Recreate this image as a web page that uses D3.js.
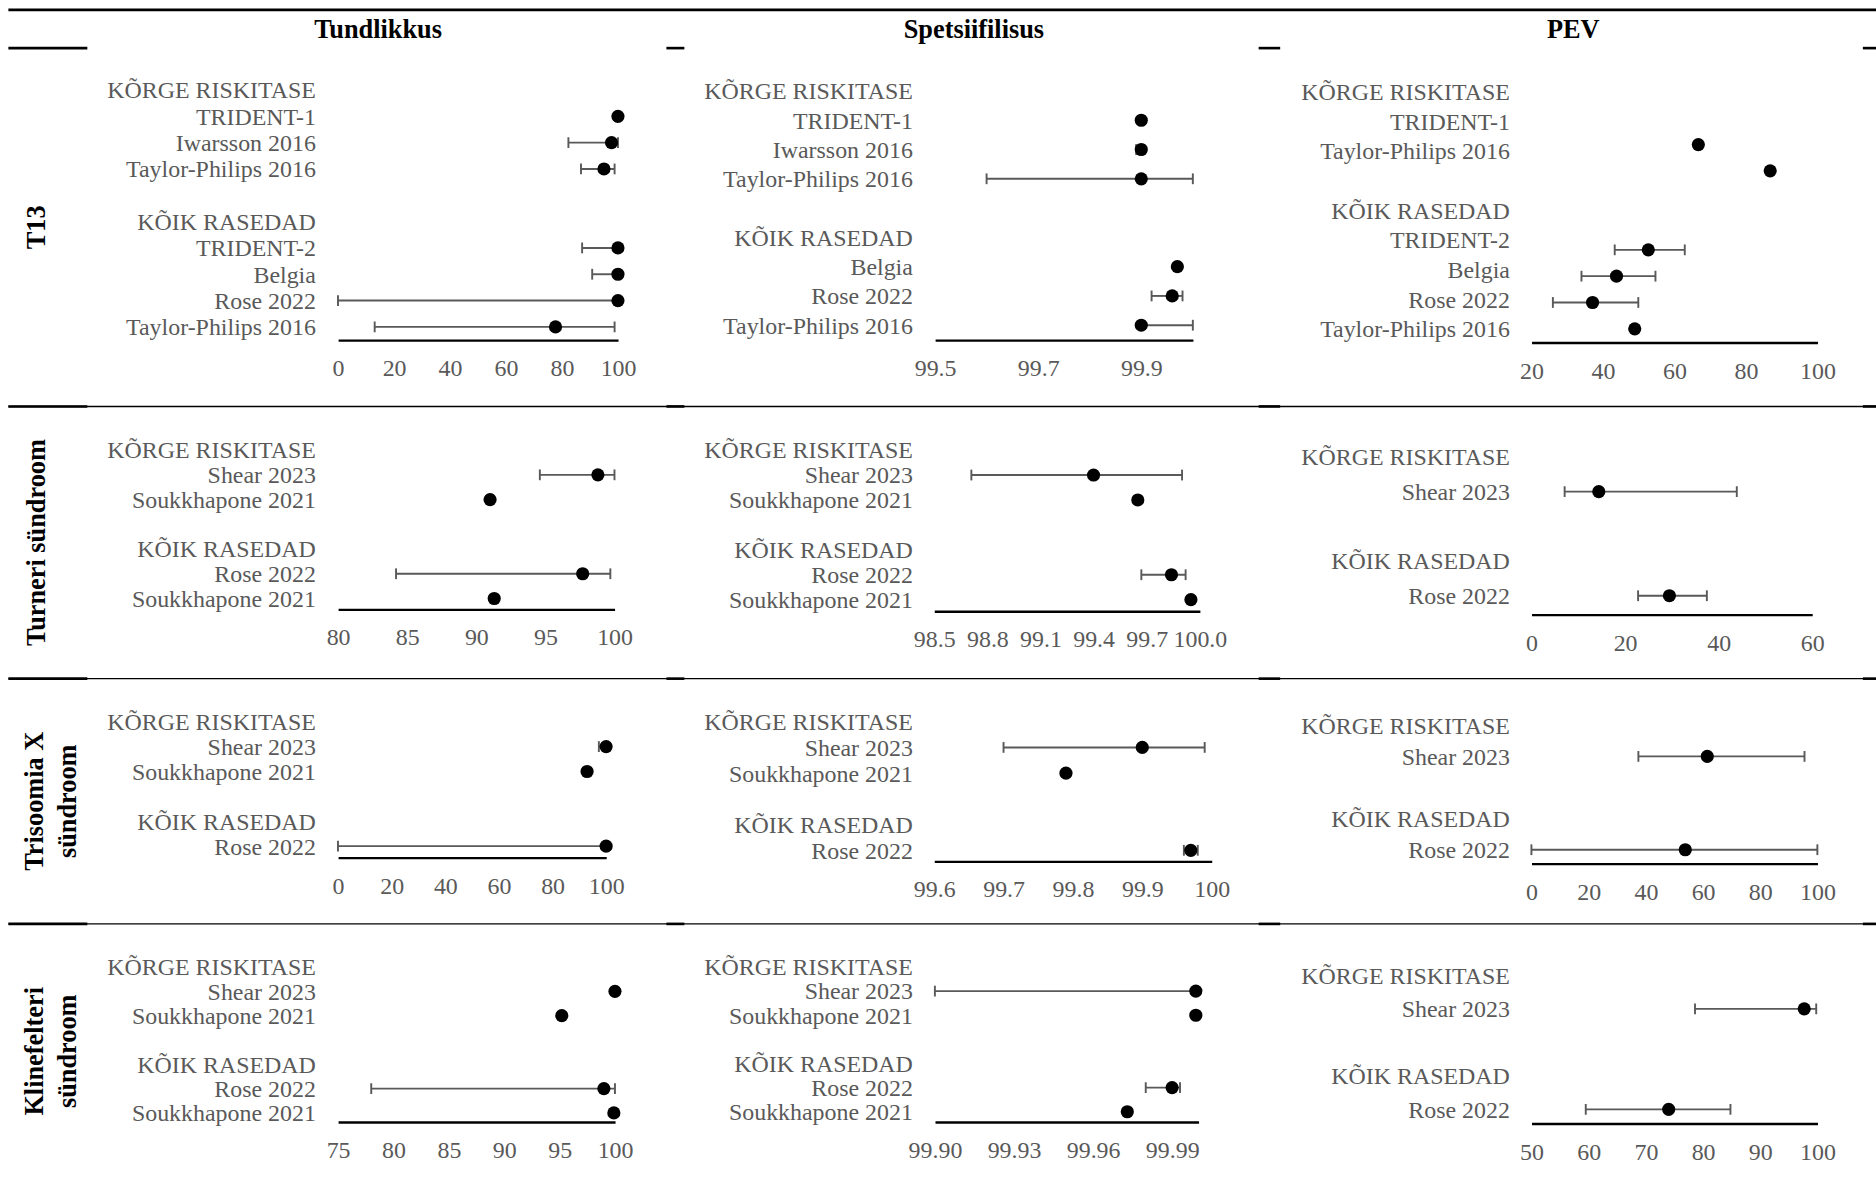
<!DOCTYPE html>
<html>
<head>
<meta charset="utf-8">
<script src="https://cdn.jsdelivr.net/npm/d3@7"></script>
<style>
  body { margin: 0; background: #fff; }
  svg { display: block; }
</style>
</head>
<body>
<svg id="chart"></svg>
<script>
// ---- data ----
const colHeaders = ['Tundlikkus', 'Spetsiifilisus', 'PEV'];
const rowHeaders = [['T13'], ['Turneri sündroom'], ['Trisoomia X', 'sündroom'], ['Klinefelteri', 'sündroom']];

// T13
const t13TundLabels = ['KÕRGE RISKITASE', 'TRIDENT-1', 'Iwarsson 2016', 'Taylor-Philips 2016', '', 'KÕIK RASEDAD', 'TRIDENT-2', 'Belgia', 'Rose 2022', 'Taylor-Philips 2016'];
const t13TundEst = [null, 100, 97.7, 95.0, null, null, 100, 100, 100, 77.7];
const t13TundLo = [null, null, 82.3, 86.8, null, null, 87.2, 90.8, 0, 13.1];
const t13TundHi = [null, null, 100, 98.8, null, null, 100, 100, 100, 98.8];

const t13SpetsLabels = ['KÕRGE RISKITASE', 'TRIDENT-1', 'Iwarsson 2016', 'Taylor-Philips 2016', '', 'KÕIK RASEDAD', 'Belgia', 'Rose 2022', 'Taylor-Philips 2016'];
const t13SpetsEst = [null, 99.90, 99.90, 99.90, null, null, 99.97, 99.96, 99.90];
const t13SpetsLo = [null, null, 99.89, 99.60, null, null, 99.965, 99.92, 99.90];
const t13SpetsHi = [null, null, 99.905, 100, null, null, 99.975, 99.98, 100];

const t13PevLabels = ['KÕRGE RISKITASE', 'TRIDENT-1', 'Taylor-Philips 2016', '', 'KÕIK RASEDAD', 'TRIDENT-2', 'Belgia', 'Rose 2022', 'Taylor-Philips 2016'];
// PEV points sit on a 10-slot grid, not on the 9 label rows
const t13PevEst = [null, null, 66.7, 86.8, null, null, 52.7, 43.8, 37.1, 48.9];
const t13PevLo = [null, null, null, null, null, null, 43.3, 34.0, 26.0, null];
const t13PevHi = [null, null, null, null, null, null, 62.9, 54.7, 49.9, null];

// Turneri sündroom
const turnerLabels = ['KÕRGE RISKITASE', 'Shear 2023', 'Soukkhapone 2021', '', 'KÕIK RASEDAD', 'Rose 2022', 'Soukkhapone 2021'];
const turnerTundEst = [null, 98.8, 91.0, null, null, 97.7, 91.3];
const turnerTundLo = [null, 94.6, null, null, null, 84.2, null];
const turnerTundHi = [null, 100, null, null, null, 99.7, null];
const turnerSpetsEst = [null, 99.40, 99.65, null, null, 99.84, 99.95];
const turnerSpetsLo = [null, 98.71, null, null, null, 99.67, null];
const turnerSpetsHi = [null, 99.90, null, null, null, 99.92, null];
const turnerPevLabels = ['KÕRGE RISKITASE', 'Shear 2023', '', 'KÕIK RASEDAD', 'Rose 2022'];
const turnerPevEst = [null, 14.4, null, null, 29.5];
const turnerPevLo = [null, 7.1, null, null, 22.8];
const turnerPevHi = [null, 43.9, null, null, 37.5];

// Trisoomia X sündroom
const trixLabels = ['KÕRGE RISKITASE', 'Shear 2023', 'Soukkhapone 2021', '', 'KÕIK RASEDAD', 'Rose 2022'];
const trixTundEst = [null, 100, 92.9, null, null, 100];
const trixTundLo = [null, 97.3, null, null, null, 0];
const trixTundHi = [null, 100, null, null, null, 100];
const trixSpetsEst = [null, 99.90, 99.79, null, null, 99.97];
const trixSpetsLo = [null, 99.70, null, null, null, 99.96];
const trixSpetsHi = [null, 99.99, null, null, null, 99.98];
const trixPevLabels = ['KÕRGE RISKITASE', 'Shear 2023', '', 'KÕIK RASEDAD', 'Rose 2022'];
const trixPevEst = [null, 61.5, null, null, 53.8];
const trixPevLo = [null, 37.4, null, null, 0];
const trixPevHi = [null, 95.5, null, null, 100];

// Klinefelteri sündroom
const klineLabels = ['KÕRGE RISKITASE', 'Shear 2023', 'Soukkhapone 2021', '', 'KÕIK RASEDAD', 'Rose 2022', 'Soukkhapone 2021'];
const klineTundEst = [null, 100, 95.2, null, null, 99.0, 99.9];
const klineTundLo = [null, null, null, null, null, 78.0, null];
const klineTundHi = [null, null, null, null, null, 100, null];
const klineSpetsEst = [null, 99.999, 99.999, null, null, 99.99, 99.973];
const klineSpetsLo = [null, 99.90, null, null, null, 99.98, null];
const klineSpetsHi = [null, 99.999, null, null, null, 99.993, null];
const klinePevLabels = ['KÕRGE RISKITASE', 'Shear 2023', '', 'KÕIK RASEDAD', 'Rose 2022'];
const klinePevEst = [null, 97.7, null, null, 74.0];
const klinePevLo = [null, 78.6, null, null, 59.5];
const klinePevHi = [null, 99.8, null, null, 84.8];

// axis domains and ticks
const ticks0to100 = [0, 20, 40, 60, 80, 100];
const ticks20to100 = [20, 40, 60, 80, 100];
const ticks80to100 = [80, 85, 90, 95, 100];
const ticks75to100 = [75, 80, 85, 90, 95, 100];
const ticks0to60 = [0, 20, 40, 60];
const ticks50to100 = [50, 60, 70, 80, 90, 100];
const ticksSpetsT13 = [99.5, 99.7, 99.9];
const tickLabelsSpetsT13 = ['99.5', '99.7', '99.9'];
const ticksSpetsTurner = [98.5, 98.8, 99.1, 99.4, 99.7, 100];
const tickLabelsSpetsTurner = ['98.5', '98.8', '99.1', '99.4', '99.7', '100.0'];
const ticksSpetsTrix = [99.6, 99.7, 99.8, 99.9, 100];
const tickLabelsSpetsTrix = ['99.6', '99.7', '99.8', '99.9', '100'];
const ticksSpetsKline = [99.90, 99.93, 99.96, 99.99];
const tickLabelsSpetsKline = ['99.90', '99.93', '99.96', '99.99'];

const panels = [
  // row 0: T13
  { labels: t13TundLabels, est: t13TundEst, lo: t13TundLo, hi: t13TundHi, domain: [0, 100], ticks: ticks0to100 },
  { labels: t13SpetsLabels, est: t13SpetsEst, lo: t13SpetsLo, hi: t13SpetsHi, domain: [99.5, 100], ticks: ticksSpetsT13, tickLabels: tickLabelsSpetsT13 },
  { labels: t13PevLabels, est: t13PevEst, lo: t13PevLo, hi: t13PevHi, domain: [20, 100], ticks: ticks20to100 },
  // row 1: Turner
  { labels: turnerLabels, est: turnerTundEst, lo: turnerTundLo, hi: turnerTundHi, domain: [80, 100], ticks: ticks80to100 },
  { labels: turnerLabels, est: turnerSpetsEst, lo: turnerSpetsLo, hi: turnerSpetsHi, domain: [98.5, 100], ticks: ticksSpetsTurner, tickLabels: tickLabelsSpetsTurner },
  { labels: turnerPevLabels, est: turnerPevEst, lo: turnerPevLo, hi: turnerPevHi, domain: [0, 60], ticks: ticks0to60 },
  // row 2: Trisoomia X
  { labels: trixLabels, est: trixTundEst, lo: trixTundLo, hi: trixTundHi, domain: [0, 100], ticks: ticks0to100 },
  { labels: trixLabels, est: trixSpetsEst, lo: trixSpetsLo, hi: trixSpetsHi, domain: [99.6, 100], ticks: ticksSpetsTrix, tickLabels: tickLabelsSpetsTrix },
  { labels: trixPevLabels, est: trixPevEst, lo: trixPevLo, hi: trixPevHi, domain: [0, 100], ticks: ticks0to100 },
  // row 3: Klinefelter
  { labels: klineLabels, est: klineTundEst, lo: klineTundLo, hi: klineTundHi, domain: [75, 100], ticks: ticks75to100 },
  { labels: klineLabels, est: klineSpetsEst, lo: klineSpetsLo, hi: klineSpetsHi, domain: [99.9, 100], ticks: ticksSpetsKline, tickLabels: tickLabelsSpetsKline },
  { labels: klinePevLabels, est: klinePevEst, lo: klinePevLo, hi: klinePevHi, domain: [50, 100], ticks: ticks50to100 },
];

// ---- layout (drawn in a 1568x985 space, scaled up to the window) ----
const W = 1568;
const H = 985;
const panelLayout = [
  { x0: 282.5, x1: 516.5, yTop: 75, yBot: 273, axisY: 284, labelX: 264 },
  { x0: 781.5, x1: 997, yTop: 75.8, yBot: 271.6, axisY: 284, labelX: 763 },
  { x0: 1280, x1: 1519, yTop: 76.6, yBot: 274.6, axisY: 286, labelX: 1262 },
  { x0: 282.5, x1: 513.6, yTop: 376, yBot: 500, axisY: 509, labelX: 264 },
  { x0: 780.8, x1: 1002.8, yTop: 376, yBot: 501, axisY: 510.6, labelX: 763 },
  { x0: 1280, x1: 1514.6, yTop: 381.7, yBot: 497.7, axisY: 513.4, labelX: 1262 },
  { x0: 282.5, x1: 506.6, yTop: 603, yBot: 707, axisY: 716.5, labelX: 264 },
  { x0: 780.8, x1: 1012.7, yTop: 603, yBot: 710.5, axisY: 719.7, labelX: 763 },
  { x0: 1280, x1: 1519, yTop: 606, yBot: 710, axisY: 721.5, labelX: 1262 },
  { x0: 282.5, x1: 514, yTop: 808, yBot: 930, axisY: 937.5, labelX: 264 },
  { x0: 781.4, x1: 1001.7, yTop: 808, yBot: 929, axisY: 937.5, labelX: 763 },
  { x0: 1280, x1: 1519, yTop: 815, yBot: 927, axisY: 938.8, labelX: 1262 },
];
const headerX = [316, 814, 1315];
const rowBands = [[40, 339.5], [339.5, 567], [567, 772], [772, 985]];
const gapSegments = [[7, 73], [557, 572], [1052, 1070], [1557, 1568]];

const FONT = '"Liberation Serif", "Times New Roman", Times, serif';
const GREY = '#595959';
const LABEL_SIZE = 20;

const svg = d3.select('#chart')
  .attr('width', 1876)
  .attr('height', 1179)
  .attr('viewBox', `0 0 ${W} ${H}`)
  .style('font-family', FONT);

svg.append('rect').attr('width', W).attr('height', H).attr('fill', '#fff');

// table rules
svg.append('line')
  .attr('x1', 7).attr('x2', W).attr('y1', 8).attr('y2', 8)
  .attr('stroke', '#000').attr('stroke-width', 2.2);

gapSegments.forEach(([a, b]) => {
  svg.append('line')
    .attr('x1', a).attr('x2', b).attr('y1', 40).attr('y2', 40)
    .attr('stroke', '#000').attr('stroke-width', 2.2);
});

rowBands.slice(1).forEach(([y]) => {
  svg.append('line')
    .attr('x1', 7).attr('x2', W).attr('y1', y).attr('y2', y)
    .attr('stroke', '#000').attr('stroke-width', 1.2);
  gapSegments.forEach(([a, b]) => {
    svg.append('line')
      .attr('x1', a).attr('x2', b).attr('y1', y).attr('y2', y)
      .attr('stroke', '#000').attr('stroke-width', 2.2);
  });
});

// column headers
colHeaders.forEach((h, i) => {
  svg.append('text')
    .attr('x', headerX[i]).attr('y', 24)
    .attr('dy', '0.35em')
    .attr('text-anchor', 'middle')
    .attr('font-weight', 'bold')
    .attr('font-size', 22)
    .attr('fill', '#000')
    .text(h);
});

// row headers (rotated)
rowHeaders.forEach((lines, r) => {
  const cy = (rowBands[r][0] + rowBands[r][1]) / 2;
  const lineGap = 28;
  const startX = lines.length === 1 ? 30 : 28;
  lines.forEach((t, k) => {
    const cx = startX + k * lineGap;
    svg.append('text')
      .attr('transform', `translate(${cx},${cy}) rotate(-90)`)
      .attr('dy', '0.35em')
      .attr('text-anchor', 'middle')
      .attr('font-weight', 'bold')
      .attr('font-size', 22)
      .attr('fill', '#000')
      .text(t);
  });
});

// forest panels
panels.forEach((p, i) => {
  const lay = panelLayout[i];
  const g = svg.append('g');

  const x = d3.scaleLinear().domain(p.domain).range([lay.x0, lay.x1]);
  const yLabel = d3.scalePoint().domain(d3.range(p.labels.length)).range([lay.yTop, lay.yBot]);
  const yPoint = d3.scalePoint().domain(d3.range(p.est.length)).range([lay.yTop, lay.yBot]);

  // study labels
  g.selectAll('text.lbl')
    .data(p.labels)
    .enter()
    .append('text')
    .attr('class', 'lbl')
    .attr('x', lay.labelX)
    .attr('y', (d, k) => yLabel(k))
    .attr('dy', '0.35em')
    .attr('text-anchor', 'end')
    .attr('font-size', LABEL_SIZE)
    .attr('fill', GREY)
    .text((d) => d);

  // axis
  const axis = d3.axisBottom(x)
    .tickValues(p.ticks)
    .tickSize(0)
    .tickSizeOuter(0)
    .tickPadding(16)
    .tickFormat((d, k) => (p.tickLabels ? p.tickLabels[k] : String(d)));
  const ax = g.append('g')
    .attr('transform', `translate(0,${lay.axisY})`)
    .call(axis);
  ax.select('.domain').attr('stroke', '#000').attr('stroke-width', 2);
  ax.selectAll('text')
    .attr('font-family', FONT)
    .attr('font-size', LABEL_SIZE)
    .attr('fill', GREY);

  // confidence intervals
  const rows = d3.range(p.est.length).filter((k) => p.est[k] !== null);
  const ci = rows.filter((k) => p.lo[k] !== null && p.hi[k] !== null);
  const cap = 4.5;
  ci.forEach((k) => {
    const y = yPoint(k);
    g.append('line')
      .attr('x1', x(p.lo[k])).attr('x2', x(p.hi[k]))
      .attr('y1', y).attr('y2', y)
      .attr('stroke', GREY).attr('stroke-width', 1.6);
    [p.lo[k], p.hi[k]].forEach((v) => {
      g.append('line')
        .attr('x1', x(v)).attr('x2', x(v))
        .attr('y1', y - cap).attr('y2', y + cap)
        .attr('stroke', GREY).attr('stroke-width', 1.6);
    });
  });

  // point estimates
  g.selectAll('circle')
    .data(rows)
    .enter()
    .append('circle')
    .attr('cx', (k) => x(p.est[k]))
    .attr('cy', (k) => yPoint(k))
    .attr('r', 5.5)
    .attr('fill', '#000');
});
</script>
</body>
</html>
